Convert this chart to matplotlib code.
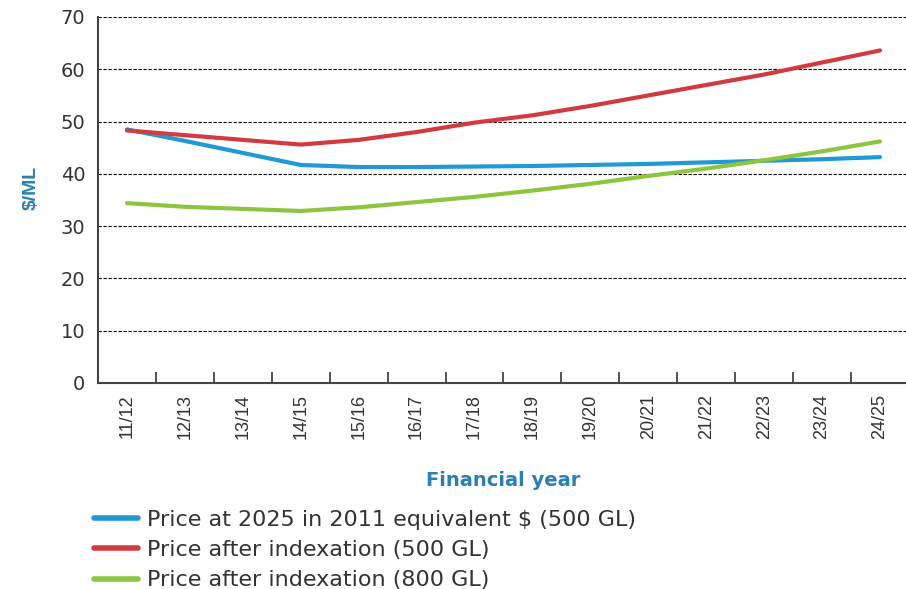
import matplotlib
matplotlib.use("Agg")
import matplotlib.pyplot as plt

plt.rcParams['font.family'] = ['Liberation Sans', 'DejaVu Sans']

# financial years and $/ML values
years = ["11/12", "12/13", "13/14", "14/15", "15/16", "16/17", "17/18",
         "18/19", "19/20", "20/21", "21/22", "22/23", "23/24", "24/25"]
real_500 = [48.5, 46.3, 44.0, 41.7, 41.3, 41.3, 41.4,
            41.5, 41.7, 41.9, 42.2, 42.5, 42.8, 43.2]
indexed_500 = [48.3, 47.4, 46.5, 45.6, 46.5, 48.0, 49.8,
               51.2, 53.0, 55.0, 57.0, 59.0, 61.3, 63.6]
indexed_800 = [34.4, 33.7, 33.3, 32.9, 33.6, 34.6, 35.6,
               36.8, 38.1, 39.6, 41.0, 42.6, 44.3, 46.2]
labels = ["Price at 2025 in 2011 equivalent $ (500 GL)",
          "Price after indexation (500 GL)",
          "Price after indexation (800 GL)"]
colors = ["#1f9ad6", "#d33a40", "#8dc540"]
title_blue = "#2b7fb2"
text_grey = "#333333"
wide = 'DejaVu Sans'  # the reference text looks stretched sideways

fig = plt.figure(figsize=(9.06, 5.89), dpi=100)
ax = fig.add_axes([98 / 906, 1 - 383 / 589, 811 / 906, 366 / 589])

x = list(range(len(years)))
for vals, lab, col in zip([real_500, indexed_500, indexed_800], labels, colors):
    ax.plot(x, vals, color=col, lw=3, label=lab, solid_capstyle='round')

ax.set_xlim(-0.5, len(years) - 0.5)
ax.set_ylim(0, 70)
ax.set_yticks(range(0, 71, 10))
ax.yaxis.grid(True, color='black', lw=0.8, linestyle=(0, (3, 1.5)))
ax.set_axisbelow(True)

ax.set_xticks(x)
ax.set_xticklabels(years, rotation=90, fontsize=13, color=text_grey)
ax.set_xticks([i + 0.5 for i in x[:-1]], minor=True)
ax.tick_params(axis='x', which='major', length=0, pad=8)
ax.tick_params(axis='x', which='minor', direction='in', length=8, width=1.3, color='#444444')
ax.tick_params(axis='y', length=0, pad=9, labelsize=14, labelcolor=text_grey)
for t in ax.get_yticklabels():
    t.set_family(wide)

for side in ['top', 'right']:
    ax.spines[side].set_visible(False)
for side in ['left', 'bottom']:
    ax.spines[side].set_color('#444444')
    ax.spines[side].set_linewidth(1.5)

ax.set_ylabel("$/ML", fontsize=14, fontweight='bold', color=title_blue)
ax.yaxis.set_label_coords((40 - 98) / 811, (383 - 188) / 366)
fig.text(503 / 906, 1 - 481 / 589, "Financial year", fontsize=14, fontweight='bold',
         color=title_blue, ha='center', va='center', family=wide)

handles, labs = ax.get_legend_handles_labels()
leg = fig.legend(handles, labs, loc='upper left', bbox_to_anchor=(94 / 906, 1 - 510 / 589),
                 frameon=False, prop={'family': wide, 'size': 16}, handlelength=2.0,
                 handletextpad=0.4, labelspacing=0.46, borderaxespad=0, borderpad=0)
for t in leg.get_texts():
    t.set_color(text_grey)
for h in leg.get_lines():
    h.set_linewidth(4)

fig.savefig("out.png", dpi=100)
